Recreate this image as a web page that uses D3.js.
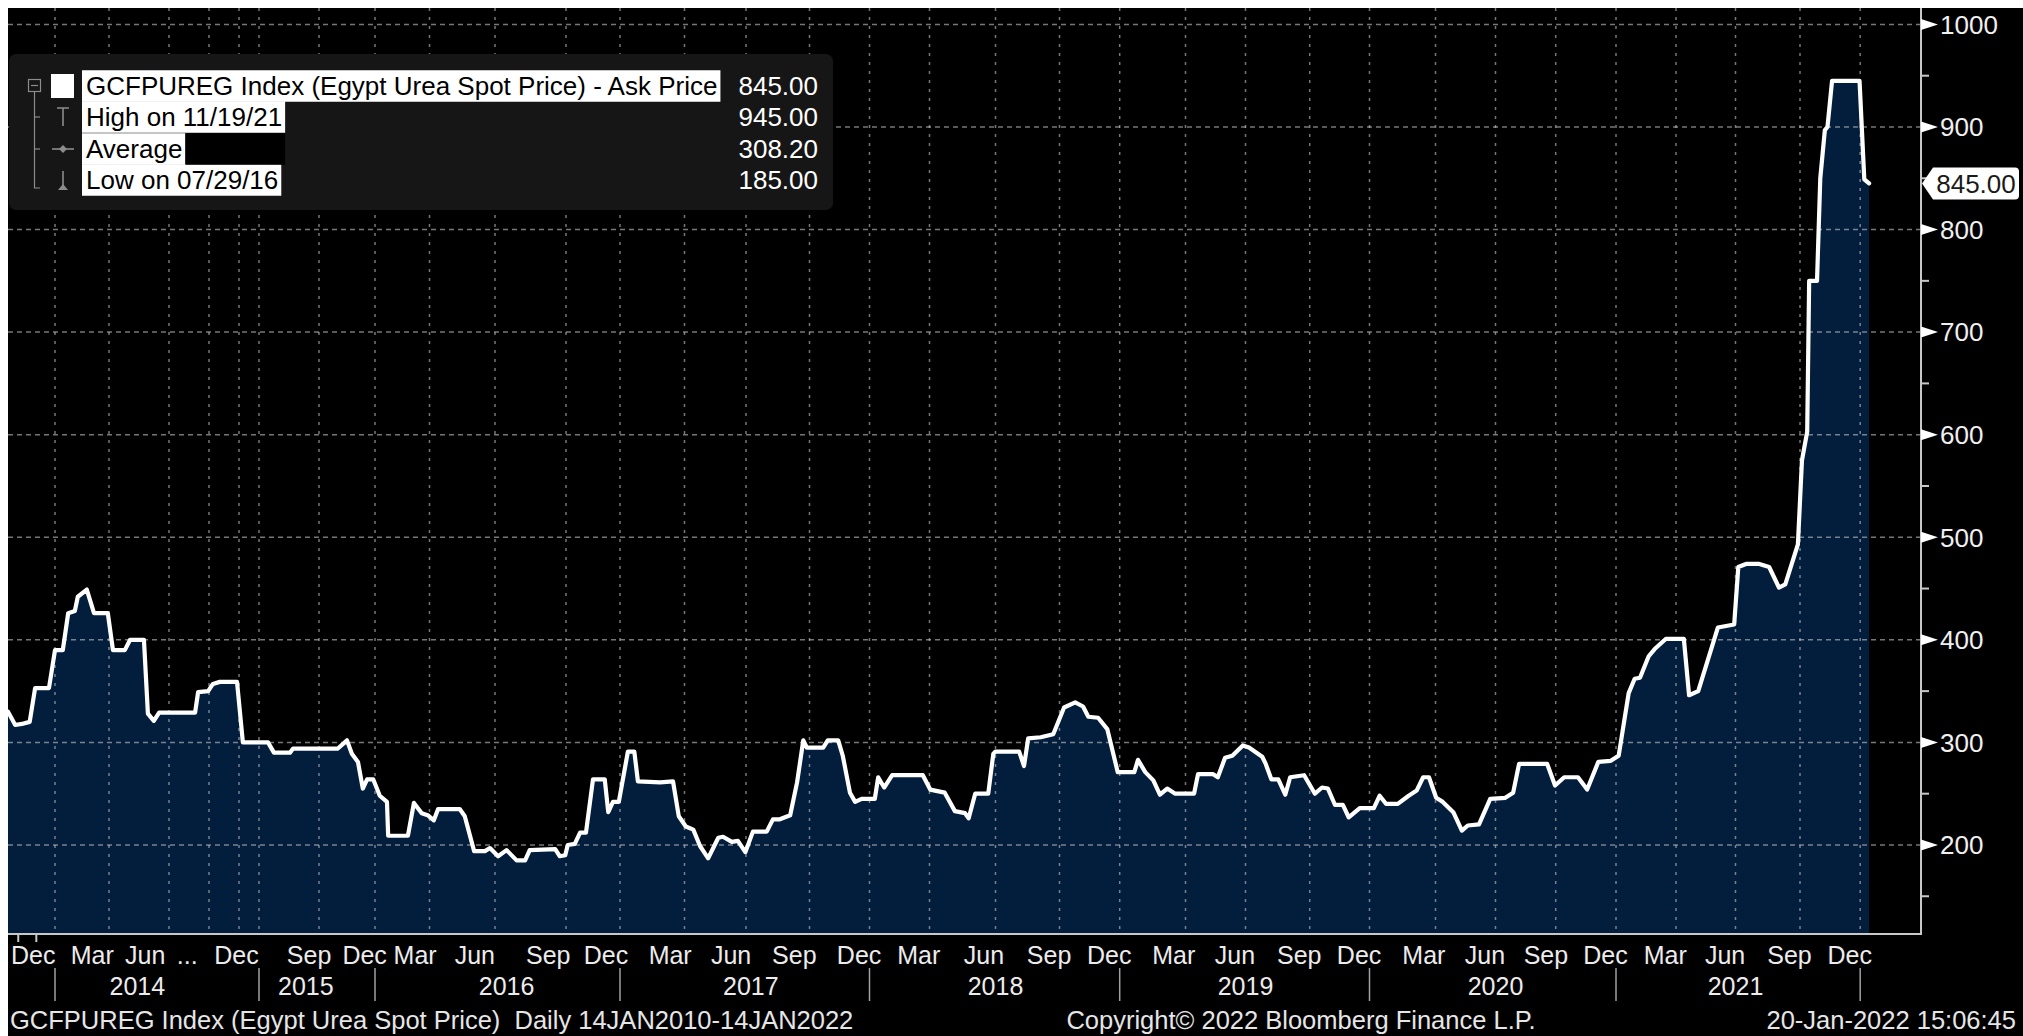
<!DOCTYPE html>
<html>
<head>
<meta charset="utf-8">
<script src="https://cdn.jsdelivr.net/npm/d3@7"></script>
<style>
  html, body { margin: 0; padding: 0; background: #ffffff; }
  svg { display: block; }
  text { font-family: "Liberation Sans", Arial, sans-serif; }
</style>
</head>
<body>
<svg id="chart" width="2023" height="1036"></svg>
<script>
// ---------------- DATA ----------------
const seriesTitle = "GCFPUREG Index (Egypt Urea Spot Price) - Ask Price";

const obsDates = [
  "2013-10-15","2013-10-27","2013-11-07","2013-11-20","2013-11-29","2013-12-22","2014-01-01","2014-01-14","2014-01-23","2014-02-03",
  "2014-02-08","2014-02-23","2014-03-07","2014-03-30","2014-04-07","2014-04-25","2014-05-03","2014-05-24","2014-05-30","2014-06-08",
  "2014-06-16","2014-08-30","2014-09-06","2014-09-29","2014-10-09","2014-10-23","2014-11-27","2014-12-07","2015-02-11","2015-03-10",
  "2015-05-22","2015-06-05","2015-11-01","2015-11-16","2015-11-24","2015-12-04","2015-12-12","2015-12-19","2015-12-29","2016-01-09",
  "2016-01-21","2016-01-23","2016-02-25","2016-03-06","2016-03-19","2016-03-29","2016-04-07","2016-04-13","2016-05-13","2016-05-20",
  "2016-06-02","2016-06-17","2016-06-24","2016-07-05","2016-07-16","2016-07-29","2016-08-09","2016-08-15","2016-09-17","2016-09-23",
  "2016-09-30","2016-10-04","2016-10-16","2016-10-25","2016-11-04","2016-11-16","2016-12-06","2016-12-12","2016-12-20","2016-12-30",
  "2017-01-12","2017-01-21","2017-01-26","2017-02-26","2017-03-16","2017-03-24","2017-04-03","2017-04-14","2017-04-24","2017-05-06",
  "2017-05-21","2017-05-28","2017-06-10","2017-06-19","2017-06-30","2017-07-11","2017-07-31","2017-08-09","2017-08-19","2017-09-03",
  "2017-09-13","2017-09-22","2017-09-27","2017-10-22","2017-10-29","2017-11-14","2017-11-21","2017-12-02","2017-12-10","2017-12-20",
  "2018-01-09","2018-01-14","2018-01-23","2018-02-04","2018-03-22","2018-04-02","2018-04-22","2018-05-06","2018-05-20","2018-05-25",
  "2018-06-03","2018-06-21","2018-06-28","2018-07-01","2018-08-04","2018-08-11","2018-08-17","2018-09-04","2018-09-22","2018-10-08",
  "2018-10-25","2018-11-06","2018-11-14","2018-11-29","2018-12-13","2018-12-29","2019-01-21","2019-01-26","2019-02-05","2019-02-16",
  "2019-02-25","2019-03-07","2019-03-18","2019-04-14","2019-04-20","2019-05-13","2019-05-20","2019-05-31","2019-06-11","2019-06-27",
  "2019-07-06","2019-07-25","2019-07-30","2019-08-07","2019-08-17","2019-08-27","2019-09-03","2019-09-23","2019-10-09","2019-10-20",
  "2019-10-29","2019-11-09","2019-11-21","2019-11-30","2019-12-17","2020-01-07","2020-01-15","2020-01-24","2020-02-09","2020-02-24",
  "2020-03-06","2020-03-15","2020-03-23","2020-04-02","2020-04-12","2020-04-28","2020-05-11","2020-05-20","2020-06-06","2020-06-23",
  "2020-07-16","2020-07-28","2020-08-06","2020-09-18","2020-09-30","2020-10-14","2020-11-04","2020-11-18","2020-12-05","2020-12-24",
  "2021-01-05","2021-01-20","2021-01-29","2021-02-06","2021-02-19","2021-02-28","2021-03-17","2021-04-13","2021-04-21","2021-05-05",
  "2021-06-04","2021-06-29","2021-07-05","2021-07-16","2021-08-04","2021-08-18","2021-09-01","2021-09-10","2021-09-28","2021-10-04",
  "2021-10-12","2021-10-15","2021-10-27","2021-11-01","2021-11-08","2021-11-12","2021-11-19","2021-12-31","2022-01-07","2022-01-14"
];
const askPrice = [
  330,317,318,320,353,353,390,390,426,428,
  442,449,426,426,390,390,400,400,328,321,
  329,329,349,350,357,359,359,300,300,290,
  290,294,294,302,289,281,255,264,264,248,
  242,209,209,241,231,229,224,235,235,228,
  194,194,197,189,195,185,185,195,196,189,
  190,200,201,212,212,264,264,232,242,242,
  291,291,262,261,262,228,218,215,199,187,
  207,208,203,204,193,213,213,225,225,229,
  261,302,295,295,302,302,287,251,242,245,
  245,266,256,268,268,254,251,233,231,226,
  250,250,289,291,291,277,304,305,308,334,
  339,335,325,324,313,271,271,283,271,263,
  249,255,250,250,269,269,266,285,287,297,
  295,286,279,264,264,249,266,268,250,256,
  255,239,239,227,236,236,248,240,240,248,
  253,266,266,246,242,232,214,219,220,245,
  246,251,279,279,258,266,266,254,281,282,
  287,348,362,363,384,391,401,401,346,350,
  412,415,471,474,474,471,451,454,493,575,
  603,750,750,850,897,900,945,945,849,845
];

const legendLabels = ["GCFPUREG Index (Egypt Urea Spot Price) - Ask Price", "High on 11/19/21", "Average", "Low on 07/29/16"];
const legendValues = [845.00, 945.00, 308.20, 185.00];

const yMajorTicks = [200, 300, 400, 500, 600, 700, 800, 900, 1000];
const yMinorTicks = [150, 250, 350, 450, 550, 650, 750, 850, 950];

// Quarter gridline dates (Bloomberg non-uniform observation axis)
const gridDates = [
  "2014-01-01","2014-04-01","2014-07-01","2014-10-01","2014-12-01","2015-01-01","2015-10-01",
  "2016-01-01","2016-04-01","2016-07-01","2016-10-01","2017-01-01","2017-04-01","2017-07-01","2017-10-01",
  "2018-01-01","2018-04-01","2018-07-01","2018-10-01","2019-01-01","2019-04-01","2019-07-01","2019-10-01",
  "2020-01-01","2020-04-01","2020-07-01","2020-10-01","2021-01-01","2021-04-01","2021-07-01","2021-10-01","2022-01-01"
];
const monthTickDates = [
  "2013-11-26","2014-03-04","2014-05-26","2014-08-12","2014-11-26","2015-08-17","2015-12-15",
  "2016-03-08","2016-06-03","2016-09-08","2016-12-08","2017-03-12","2017-06-09","2017-09-09","2017-12-16",
  "2018-03-16","2018-06-15","2018-09-16","2018-12-16","2019-03-16","2019-06-15","2019-09-16","2019-12-16",
  "2020-03-16","2020-06-15","2020-09-16","2020-12-16","2021-03-16","2021-06-15","2021-09-16","2021-12-16"
];
const monthTickLabels = [
  "Dec","Mar","Jun","...","Dec","Sep","Dec",
  "Mar","Jun","Sep","Dec","Mar","Jun","Sep","Dec",
  "Mar","Jun","Sep","Dec","Mar","Jun","Sep","Dec",
  "Mar","Jun","Sep","Dec","Mar","Jun","Sep","Dec"
];
const yearLabelDates = ["2014-05-14","2015-08-02","2016-07-16","2017-07-08","2018-07-01","2019-07-01","2020-07-01","2021-07-01"];
const yearLabels = ["2014","2015","2016","2017","2018","2019","2020","2021"];
const yearStartDates = ["2014-01-01","2015-01-01","2016-01-01","2017-01-01","2018-01-01","2019-01-01","2020-01-01","2021-01-01","2022-01-01"];

const footerLeft = "GCFPUREG Index (Egypt Urea Spot Price)  Daily 14JAN2010-14JAN2022";
const footerMid = "Copyright\u00A9 2022 Bloomberg Finance L.P.";
const footerRight = "20-Jan-2022 15:06:45";

// ---------------- LAYOUT ----------------
const W = 2023, H = 1036;
const P = { left: 8, top: 8, right: 1921, bottom: 934 };
const parse = d3.utcParse("%Y-%m-%d");
const FONT = "'Liberation Sans', Arial, sans-serif";

// Bloomberg compresses periods without observations: piecewise time scale
const axisAnchorDates = ["2013-10-15"].concat(gridDates, ["2022-03-31"]).map(parse);
const axisAnchorPos = [8,55,109,169,209,239,259,319,375,429.5,495,566,620,684.5,746,809.5,869.5,929.5,995.5,1059.5,
  1119.7,1185.5,1245.5,1309.7,1369.5,1435.5,1495.5,1555.7,1616,1676,1735.5,1800,1860.2,1921];
const x = d3.scaleUtc().domain(axisAnchorDates).range(axisAnchorPos);
const y = d3.scaleLinear().domain([113.2, 1016]).range([P.bottom, P.top]);

const data = obsDates.map((d, i) => ({ date: parse(d), value: askPrice[i] }));

const svg = d3.select("#chart");
svg.append("rect").attr("x", 0).attr("y", 0).attr("width", W).attr("height", H).attr("fill", "#ffffff");
svg.append("rect").attr("x", P.left).attr("y", P.top).attr("width", W - P.left).attr("height", H - P.top).attr("fill", "#000000");

svg.append("defs").append("clipPath").attr("id", "plotclip")
  .append("rect").attr("x", P.left).attr("y", P.top).attr("width", P.right - P.left).attr("height", P.bottom - P.top);

const plotG = svg.append("g").attr("clip-path", "url(#plotclip)");

// area
plotG.append("path").datum(data)
  .attr("fill", "#031d3c")
  .attr("d", d3.area().x(d => x(d.date)).y0(P.bottom).y1(d => y(d.value)));

// gridlines
const gridColor = "rgba(205,205,205,0.58)";
plotG.append("g").selectAll("line").data(yMajorTicks).join("line")
  .attr("x1", P.left).attr("x2", P.right)
  .attr("y1", d => y(d)).attr("y2", d => y(d))
  .attr("stroke", gridColor).attr("stroke-width", 1.5).attr("stroke-dasharray", "5,4");
plotG.append("g").selectAll("line").data(gridDates.map(parse)).join("line")
  .attr("x1", d => x(d)).attr("x2", d => x(d))
  .attr("y1", P.top).attr("y2", P.bottom)
  .attr("stroke", gridColor).attr("stroke-width", 1.5).attr("stroke-dasharray", "3,6");

// line
plotG.append("path").datum(data)
  .attr("fill", "none").attr("stroke", "#ffffff").attr("stroke-width", 4.2)
  .attr("stroke-linejoin", "round").attr("stroke-linecap", "round")
  .attr("d", d3.line().x(d => x(d.date)).y(d => y(d.value)));

// axes lines
const axisColor = "#c8c8c8";
svg.append("line").attr("x1", P.left).attr("x2", P.right + 1).attr("y1", P.bottom).attr("y2", P.bottom)
  .attr("stroke", axisColor).attr("stroke-width", 2);
svg.append("line").attr("x1", P.right).attr("x2", P.right).attr("y1", P.top).attr("y2", P.bottom + 1)
  .attr("stroke", axisColor).attr("stroke-width", 2);

// monthly small ticks on x axis (skip where observations are compressed)
const monthStarts = d3.utcMonth.range(x.domain()[0], x.domain()[1]);
let lastX = -100;
const keptTicks = [];
monthStarts.forEach(d => { const px = x(d); if (px - lastX >= 12) { keptTicks.push(d); lastX = px; } });
svg.append("g").selectAll("line").data(keptTicks).join("line")
  .attr("x1", d => x(d)).attr("x2", d => x(d))
  .attr("y1", P.bottom).attr("y2", P.bottom + 8)
  .attr("stroke", axisColor).attr("stroke-width", 2);

// month labels
svg.append("g").selectAll("text").data(monthTickDates.map((d, i) => ({ d: parse(d), t: monthTickLabels[i] }))).join("text")
  .attr("x", d => x(d.d)).attr("y", 964)
  .attr("text-anchor", "middle").attr("fill", "#ececec")
  .style("font-family", FONT).style("font-size", "25px")
  .text(d => d.t);

// year labels + separators
svg.append("g").selectAll("line").data(yearStartDates.map(parse)).join("line")
  .attr("x1", d => x(d)).attr("x2", d => x(d)).attr("y1", 968).attr("y2", 1001)
  .attr("stroke", "#a0a0a0").attr("stroke-width", 1.5);
svg.append("g").selectAll("text").data(yearLabelDates.map((d, i) => ({ d: parse(d), t: yearLabels[i] }))).join("text")
  .attr("x", d => x(d.d)).attr("y", 995)
  .attr("text-anchor", "middle").attr("fill", "#ececec")
  .style("font-family", FONT).style("font-size", "25px")
  .text(d => d.t);

// y axis: minor ticks, major triangles, labels
svg.append("g").selectAll("line").data(yMinorTicks).join("line")
  .attr("x1", P.right).attr("x2", P.right + 8).attr("y1", d => y(d)).attr("y2", d => y(d))
  .attr("stroke", axisColor).attr("stroke-width", 2);
svg.append("g").selectAll("path").data(yMajorTicks).join("path")
  .attr("d", d => `M${P.right},${y(d) - 5.5} L${P.right + 17},${y(d)} L${P.right},${y(d) + 5.5} Z`)
  .attr("fill", "#ffffff");
svg.append("g").selectAll("text").data(yMajorTicks).join("text")
  .attr("x", P.right + 19).attr("y", d => y(d)).attr("dy", "0.36em")
  .attr("fill", "#f0f0f0")
  .style("font-family", FONT).style("font-size", "26px")
  .text(d => String(d));

// last value tag
const last = data[data.length - 1];
const ly = y(last.value);
svg.append("path")
  .attr("d", `M${P.right + 1},${ly} L${P.right + 12},${ly - 16} L${W - 8},${ly - 16} Q${W - 4},${ly - 16} ${W - 4},${ly - 12} L${W - 4},${ly + 12} Q${W - 4},${ly + 16} ${W - 8},${ly + 16} L${P.right + 12},${ly + 16} Z`)
  .attr("fill", "#ffffff");
svg.append("text").attr("x", (P.right + 12 + W - 4) / 2).attr("y", ly).attr("dy", "0.36em")
  .attr("text-anchor", "middle").attr("fill", "#1a1a1a")
  .style("font-family", FONT).style("font-size", "26px")
  .text(last.value.toFixed(2));

// ---------------- LEGEND ----------------
const lg = svg.append("g");
lg.append("rect").attr("x", 9).attr("y", 54).attr("width", 824).attr("height", 156).attr("rx", 7)
  .attr("fill", "#161616");
const rowY = [86, 117, 149, 180];
const rowH = 31.5;
const textX = 86;
const widths = [];
const boxG = lg.append("g");
const txtG = lg.append("g");
legendLabels.forEach((lab, i) => {
  const t = txtG.append("text").attr("x", textX).attr("y", rowY[i]).attr("dy", "0.36em")
    .attr("fill", "#000000").style("font-family", FONT).style("font-size", "26px").text(lab);
  widths.push(t.node().getComputedTextLength());
});
legendLabels.forEach((lab, i) => {
  boxG.append("rect").attr("x", textX - 4).attr("y", rowY[i] - rowH / 2)
    .attr("width", widths[i] + 7).attr("height", rowH).attr("fill", "#ffffff");
});
// black filler after "Average" row (same width as the "High" row box)
boxG.append("rect").attr("x", textX - 4 + widths[2] + 7).attr("y", rowY[2] - rowH / 2)
  .attr("width", Math.max(0, widths[1] - widths[2])).attr("height", rowH).attr("fill", "#000000");

lg.append("g").selectAll("text").data(legendValues).join("text")
  .attr("x", 818).attr("y", (d, i) => rowY[i]).attr("dy", "0.36em")
  .attr("text-anchor", "end").attr("fill", "#ffffff")
  .style("font-family", FONT).style("font-size", "26px")
  .text(d => d.toFixed(2));

// legend icons
const ic = "#8c8c8c";
lg.append("rect").attr("x", 28.5).attr("y", rowY[0] - 6.5).attr("width", 12).attr("height", 12)
  .attr("fill", "none").attr("stroke", ic).attr("stroke-width", 1.2);
lg.append("line").attr("x1", 31).attr("x2", 38).attr("y1", rowY[0] - 0.5).attr("y2", rowY[0] - 0.5).attr("stroke", ic).attr("stroke-width", 1.2);
lg.append("rect").attr("x", 51).attr("y", rowY[0] - 12).attr("width", 23).attr("height", 24).attr("fill", "#ffffff");
lg.append("path").attr("d", `M34.5,${rowY[0] + 6} L34.5,${rowY[3] + 8} L40,${rowY[3] + 8}`)
  .attr("fill", "none").attr("stroke", ic).attr("stroke-width", 1.2);
[rowY[1], rowY[2]].forEach(yy => lg.append("line").attr("x1", 34.5).attr("x2", 40).attr("y1", yy).attr("y2", yy)
  .attr("stroke", ic).attr("stroke-width", 1.2));
// high icon (T)
lg.append("path").attr("d", `M57,${rowY[1] - 9} L69,${rowY[1] - 9} M63,${rowY[1] - 9} L63,${rowY[1] + 9}`)
  .attr("fill", "none").attr("stroke", ic).attr("stroke-width", 1.6);
// average icon
lg.append("path").attr("d", `M52,${rowY[2]} L74,${rowY[2]}`).attr("stroke", ic).attr("stroke-width", 1.6);
lg.append("path").attr("d", `M63,${rowY[2] - 4} L67,${rowY[2]} L63,${rowY[2] + 4} L59,${rowY[2]} Z`).attr("fill", ic);
// low icon
lg.append("path").attr("d", `M63,${rowY[3] - 9} L63,${rowY[3] + 9}`).attr("stroke", ic).attr("stroke-width", 1.6);
lg.append("path").attr("d", `M58,${rowY[3] + 10} L68,${rowY[3] + 10} L63,${rowY[3] + 4} Z`).attr("fill", ic);

// ---------------- FOOTER ----------------
svg.append("text").attr("x", 10).attr("y", 1029).attr("fill", "#e6e6e6")
  .style("font-family", FONT).style("font-size", "25.5px").style("white-space", "pre")
  .text(footerLeft);
svg.append("text").attr("x", 1301).attr("y", 1029).attr("text-anchor", "middle").attr("fill", "#e6e6e6")
  .style("font-family", FONT).style("font-size", "25.5px")
  .text(footerMid);
svg.append("text").attr("x", 2016).attr("y", 1029).attr("text-anchor", "end").attr("fill", "#e6e6e6")
  .style("font-family", FONT).style("font-size", "25.5px")
  .text(footerRight);
</script>
</body>
</html>
